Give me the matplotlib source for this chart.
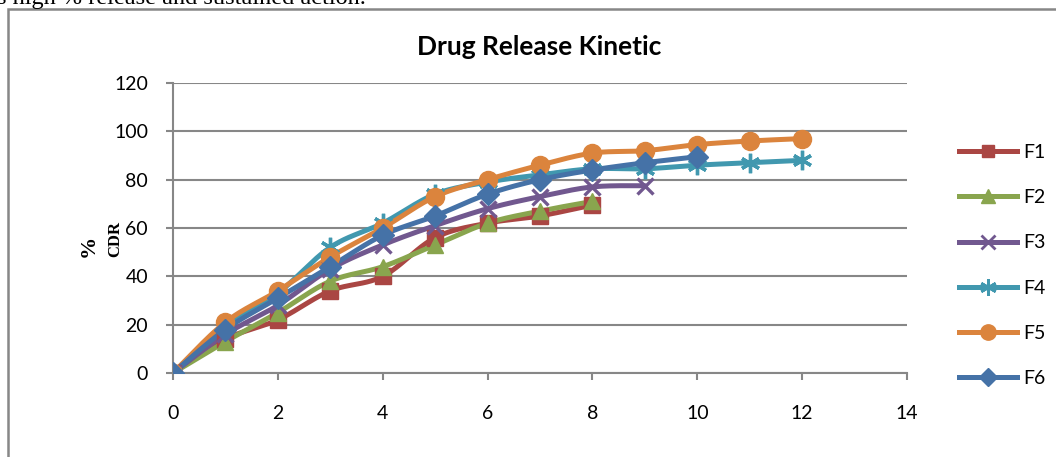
import numpy as np
import matplotlib
matplotlib.use("Agg")
import matplotlib.pyplot as plt
from matplotlib.lines import Line2D
from matplotlib.patches import Rectangle

# cumulative drug release (%) per formulation, sampled hourly
time = [0, 1, 2, 3, 4, 5, 6, 7, 8, 9, 10, 11, 12]
f1 = [0, 14, 22, 34, 40, 56, 62, 65, 69.5]
f2 = [0, 13, 25, 38, 44, 53, 62, 67, 71]
f3 = [0, 16, 28, 43, 53, 61, 68, 73, 77, 77.5]
f4 = [0, 19, 33, 52, 62, 74, 79, 82, 84.5, 84.5, 86, 87, 88]
f5 = [0, 21, 34, 48, 60, 73, 80, 86, 91, 92, 94.5, 96, 97]
f6 = [0, 18, 31, 44, 57, 65, 74, 80, 84, 87, 89.5]

labels = ["F1", "F2", "F3", "F4", "F5", "F6"]
series = [f1, f2, f3, f4, f5, f6]
colors = ["#AA4643", "#89A54E", "#71588F", "#4198AF", "#DB843D", "#4572A7"]
markers = ["s", "^", "x", (6, 2, 0), "o", "D"]
msizes = [11, 12, 12, 14, 13, 11]

GRID = "#878787"
FONT = "Lato"
LW = 3.6


def smooth(x, y, n=24):
    # bezier smoothing through the points, like a spreadsheet "smoothed line"
    pts = np.column_stack([x, y]).astype(float)
    out = [pts[0]]
    t = np.linspace(0, 1, n)[1:, None]
    for i in range(len(pts) - 1):
        p0 = pts[i - 1] if i > 0 else pts[i]
        p1, p2 = pts[i], pts[i + 1]
        p3 = pts[i + 2] if i + 2 < len(pts) else pts[i + 1]
        c1 = p1 + (p2 - p0) / 6
        c2 = p2 - (p3 - p1) / 6
        seg = (1 - t) ** 3 * p1 + 3 * (1 - t) ** 2 * t * c1 + 3 * (1 - t) * t ** 2 * c2 + t ** 3 * p2
        out.extend(seg)
    out = np.array(out)
    return out[:, 0], out[:, 1]


W, H = 1056, 457
fig = plt.figure(figsize=(W / 100, H / 100), dpi=100)
ax = fig.add_axes([173 / W, 1 - 373 / H, (907 - 173) / W, (373 - 83) / H])

for vals, lab, c, m, ms in zip(series, labels, colors, markers, msizes):
    x = time[:len(vals)]
    sx, sy = smooth(x, vals)
    ax.plot(sx, sy, color=c, lw=LW, solid_capstyle="round", zorder=3)
    mew = 2.4 if m in ("x", (6, 2, 0)) else 1
    ax.plot(x, vals, ls="none", marker=m, ms=ms, color=c, mec=c, mew=mew, zorder=4)

ax.set_xlim(0, 14)
ax.set_ylim(0, 120)
ax.set_xticks(range(0, 15, 2))
ax.set_yticks(range(0, 121, 20))
ax.yaxis.grid(True, color=GRID, lw=1.5)
ax.set_axisbelow(True)
for s in ["top", "right"]:
    ax.spines[s].set_visible(False)
for s in ["left", "bottom"]:
    ax.spines[s].set_color(GRID)
    ax.spines[s].set_linewidth(1.5)
ax.tick_params(axis="both", colors=GRID, width=1.5, length=5, direction="out")
ax.tick_params(axis="x", pad=18, labelcolor="black", labelsize=14)
ax.tick_params(axis="y", pad=13, labelcolor="black", labelsize=14)
for t in ax.get_xticklabels() + ax.get_yticklabels():
    t.set_fontfamily(FONT)

fig.text(539 / W, 1 - 47 / H, "Drug Release Kinetic", ha="center", va="center",
         fontsize=19, fontweight="bold", family=FONT)

# y label: "%" and "CDR" stacked side by side
fig.text(89 / W, 1 - 257 / H, "%", rotation=90, ha="center", va="bottom",
         fontsize=16, fontweight="bold", family="Liberation Serif")
fig.text(115 / W, 1 - 257 / H, "CDR", rotation=90, ha="center", va="bottom",
         fontsize=12, fontweight="bold", family="Liberation Serif")

handles = [Line2D([], [], color=c, lw=LW, marker=m, ms=ms * 0.85, mec=c,
                  mew=2 if m in ("x", (6, 2, 0)) else 1)
           for c, m, ms in zip(colors, markers, msizes)]
fig.legend(handles, labels, loc="upper left", bbox_to_anchor=(959 / W, 1 - 144 / H),
           frameon=False, borderpad=0, borderaxespad=0, handlelength=3.0,
           handletextpad=0.3, labelspacing=1.45, prop={"family": FONT, "size": 14})

# outer chart frame (continues past the right and bottom edges)
fig.patches.append(Rectangle((8 / W, -0.1), 1.2, 1 - 9 / H + 0.1, transform=fig.transFigure,
                             fill=False, ec=GRID, lw=1.8))

# tail of the preceding paragraph sitting above the chart
fig.text(-3 / W, 1 - 4 / H, "s high % release and sustained action.", ha="left",
         va="baseline", fontsize=17.5, family="Liberation Serif")

fig.savefig("out.png", dpi=100)
